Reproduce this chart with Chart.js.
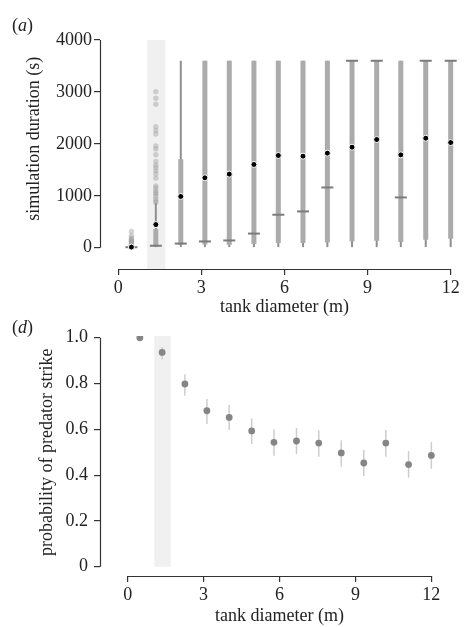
<!DOCTYPE html>
<html>
<head>
<meta charset="utf-8">
<script src="https://cdn.jsdelivr.net/npm/chart.js@4.4.1/dist/chart.umd.min.js"></script>
<style>
  html, body { margin: 0; padding: 0; background: #fff; }
  #wrap { position: relative; width: 467px; height: 627px; font-family: "Liberation Serif", "Times New Roman", serif; }
  canvas { position: absolute; left: 0; }
  #top { top: 0; }
  #bottom { top: 318px; }
  .panel { position: absolute; left: 12px; font-size: 18px; line-height: 18px; color: #222; }
</style>
</head>
<body>
<div id="wrap">
  <canvas id="top" width="467" height="318"></canvas>
  <canvas id="bottom" width="467" height="309"></canvas>
  <div class="panel" style="top:16px">(<i>a</i>)</div>
  <div class="panel" style="top:318px">(<i>d</i>)</div>
</div>
<script>
const diameters = [0.48, 1.36, 2.26, 3.13, 4.01, 4.9, 5.78, 6.67, 7.55, 8.44, 9.33, 10.2, 11.1, 12.0];

// (a) simulation duration (s), one box per tank diameter
const durLow    = [0, 0, 0, 0, 0, 0, 0, 0, 0, 0, 0, 0, 0, 0];
const durQ1     = [5, 20, 58, 60, 58, 70, 90, 90, 100, 121, 134, 109, 154, 173];
const durMedian = [10, 38, 80, 121, 140, 272, 635, 699, 1160, 3600, 3600, 968, 3600, 3600];
const durQ3     = [30, 360, 1705, 3600, 3600, 3600, 3600, 3600, 3600, 3600, 3600, 3600, 3600, 3600];
const durHigh   = [60, 860, 3600, 3600, 3600, 3600, 3600, 3600, 3600, 3600, 3600, 3600, 3600, 3600];
const durMean   = [12, 445, 987, 1346, 1417, 1603, 1776, 1763, 1821, 1936, 2083, 1788, 2109, 2025];
const outliersFirst  = [313, 230, 190, 165, 145, 125, 110, 95, 80, 65];
const outliersSecond = [3006, 2880, 2765, 2330, 2255, 2190, 1960, 1900, 1790, 1660, 1590, 1540,
                        1480, 1420, 1340, 1190, 1150, 1100, 1060, 1040, 990, 940, 900, 870];

// (d) probability of predator strike with error bars
const strikeProb = [1.0, 0.936, 0.798, 0.681, 0.652, 0.593, 0.543, 0.549, 0.540, 0.497, 0.453, 0.540, 0.446, 0.486];
const strikeLow  = [1.0, 0.906, 0.747, 0.623, 0.597, 0.536, 0.485, 0.492, 0.480, 0.437, 0.396, 0.480, 0.389, 0.428];
const strikeHigh = [1.0, 0.960, 0.841, 0.732, 0.706, 0.648, 0.600, 0.606, 0.596, 0.552, 0.510, 0.597, 0.504, 0.545];

const diamTicks = [0, 3, 6, 9, 12];
const durTicks = [0, 1000, 2000, 3000, 4000];
const probTicks = [0, 0.2, 0.4, 0.6, 0.8, 1.0];
const shadedBand = [1.05, 1.7];

const FONT = '"Liberation Serif", "Times New Roman", serif';
const INK = "#222";

const ranges = (lo, hi) => diameters.map((d, i) => ({ x: d, y: [lo[i], hi[i]] }));
const points = (vals) => diameters.map((d, i) => ({ x: d, y: vals[i] }));

const framePlugin = {
  id: "frame",
  beforeDatasetsDraw(chart, args, o) {
    const { ctx } = chart;
    const x = chart.scales.x, y = chart.scales.y;
    const x0 = x.getPixelForValue(o.band[0]), x1 = x.getPixelForValue(o.band[1]);
    const y0 = y.getPixelForValue(o.bandY[1]), y1 = y.getPixelForValue(o.bandY[0]);
    ctx.save();
    ctx.fillStyle = "#f0f0f0";
    ctx.fillRect(x0, y0, x1 - x0, y1 - y0);
    ctx.restore();
  },
  afterDraw(chart, args, o) {
    const { ctx, chartArea } = chart;
    const x = chart.scales.x, y = chart.scales.y;
    const left = Math.round(chartArea.left) + 0.5;
    const bottom = Math.round(chartArea.bottom) + 0.5;
    ctx.save();
    ctx.strokeStyle = "#333";
    ctx.lineWidth = 1.2;
    ctx.beginPath();
    ctx.moveTo(left, y.getPixelForValue(o.yDomain[0]));
    ctx.lineTo(left, y.getPixelForValue(o.yDomain[1]));
    ctx.moveTo(x.getPixelForValue(o.xDomain[0]), bottom);
    ctx.lineTo(x.getPixelForValue(o.xDomain[1]), bottom);
    ctx.stroke();

    ctx.fillStyle = INK;
    ctx.font = "18px " + FONT;
    ctx.textAlign = "center";
    ctx.textBaseline = "middle";
    const xc = (x.getPixelForValue(o.xDomain[0]) + x.getPixelForValue(o.xDomain[1])) / 2;
    ctx.fillText(o.xTitle, xc, o.xTitleY);
    const yc = (y.getPixelForValue(o.yDomain[0]) + y.getPixelForValue(o.yDomain[1])) / 2 + o.yTitleShift;
    ctx.translate(o.yTitleX, yc);
    ctx.rotate(-Math.PI / 2);
    ctx.fillText(o.yTitle, 0, 0);
    ctx.restore();
  },
};

function linearAxis(min, max, ticks, fmt, pad, fit) {
  return {
    type: "linear",
    min, max,
    offset: false,
    border: { display: false },
    grid: { drawOnChartArea: false, drawTicks: true, tickLength: 6, color: "#333", lineWidth: 1.2, offset: false },
    ticks: { padding: pad, color: INK, font: { family: FONT, size: 18 }, maxRotation: 0, autoSkip: false, callback: fmt },
    afterBuildTicks: (s) => { s.ticks = ticks.map((v) => ({ value: v })); },
    afterFit: fit,
  };
}

const baseOpts = {
  responsive: false,
  animation: false,
  events: [],
  devicePixelRatio: 1,
};

new Chart(document.getElementById("top"), {
  type: "bar",
  data: {
    datasets: [
      { type: "bar", data: ranges(durLow, durHigh), backgroundColor: "#8f8f8f", barThickness: 2, grouped: false, inflateAmount: 0, order: 5 },
      { type: "bar", data: ranges(durQ1, durQ3), backgroundColor: "#ababab", barThickness: 5, grouped: false, inflateAmount: 0, order: 4 },
      {
        type: "scatter",
        data: outliersFirst.map((v) => ({ x: diameters[0], y: v }))
          .concat(outliersSecond.map((v) => ({ x: diameters[1], y: v }))),
        pointRadius: 2.7, backgroundColor: "rgba(160,160,160,0.45)", borderWidth: 0, order: 6,
      },
      { type: "scatter", data: points(durMedian), pointStyle: "line", pointRadius: 6, borderColor: "#7c7c7c", borderWidth: 2, order: 3 },
      { type: "scatter", data: points(durMean), pointRadius: 3, backgroundColor: "#000", borderColor: "#fff", borderWidth: 1, order: 2 },
    ],
  },
  options: {
    ...baseOpts,
    layout: { padding: { top: 40, right: 5.3, left: 0, bottom: 0 } },
    scales: {
      x: linearAxis(-0.655, 12.3, diamTicks, (v) => String(v), 2, (s) => { s.height = 49; }),
      y: linearAxis(-410, 4000, durTicks, (v) => String(v), 2, (s) => { s.width = 100; }),
    },
    plugins: {
      legend: { display: false },
      tooltip: { enabled: false },
      frame: {
        band: shadedBand, bandY: [-410, 4000],
        xDomain: [0, 12], yDomain: [0, 4000],
        xTitle: "tank diameter (m)", xTitleY: 307,
        yTitle: "simulation duration (s)", yTitleX: 34, yTitleShift: -5,
      },
    },
  },
  plugins: [framePlugin],
});

new Chart(document.getElementById("bottom"), {
  type: "bar",
  data: {
    datasets: [
      { type: "bar", data: ranges(strikeLow, strikeHigh), backgroundColor: "#cdcdcd", barThickness: 1.5, grouped: false, inflateAmount: 0, order: 3 },
      { type: "scatter", data: points(strikeProb), pointRadius: 3.4, backgroundColor: "#858585", borderWidth: 0, order: 2 },
    ],
  },
  options: {
    ...baseOpts,
    layout: { padding: { top: 17.9, right: 23, left: 0, bottom: 0 } },
    scales: {
      x: linearAxis(-1.095, 12.5, diamTicks, (v) => String(v), 2, (s) => { s.height = 51; }),
      y: linearAxis(-0.0406, 1.008, probTicks, (v) => (v === 0 ? "0" : v.toFixed(1)), 6, (s) => { s.width = 100; }),
    },
    plugins: {
      legend: { display: false },
      tooltip: { enabled: false },
      frame: {
        band: shadedBand, bandY: [0, 1.008],
        xDomain: [0, 12], yDomain: [0, 1],
        xTitle: "tank diameter (m)", xTitleY: 298,
        yTitle: "probability of predator strike", yTitleX: 47, yTitleShift: 0,
      },
    },
  },
  plugins: [framePlugin],
});
</script>
</body>
</html>
